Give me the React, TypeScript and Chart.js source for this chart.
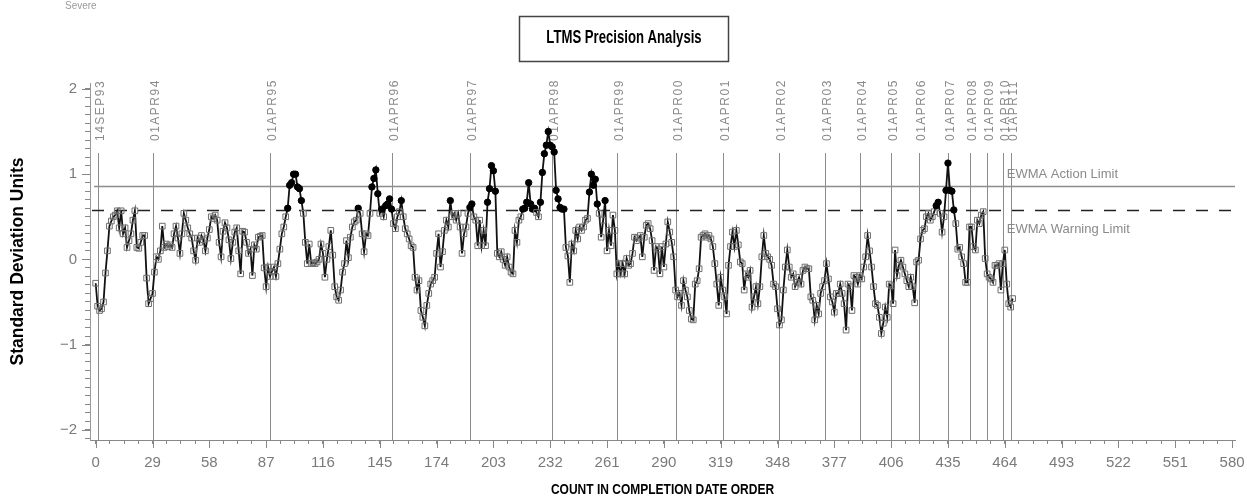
import React, { useEffect, useRef } from 'react';
import { Chart, registerables } from 'chart.js';

Chart.register(...registerables);

const TITLE = 'LTMS Precision Analysis';
const CORNER_NOTE = 'Severe';
const X_TITLE = 'COUNT IN COMPLETION DATE ORDER';
const Y_TITLE = 'Standard Deviation Units';

const ACTION_LIMIT = 0.866;
const WARNING_LIMIT = 0.577;
const ACTION_LABEL = 'EWMA Action Limit';
const WARNING_LABEL = 'EWMA Warning Limit';
const LIMIT_LABEL_COUNT = 465;

const dateLabels = ['14SEP93', '01APR94', '01APR95', '01APR96', '01APR97', '01APR98', '01APR99', '01APR00', '01APR01', '01APR02', '01APR03', '01APR04', '01APR05', '01APR06', '01APR07', '01APR08', '01APR09', '01APR10', '01APR11'];
const dateCounts = [1, 29, 89, 151, 191, 233, 266, 296, 320, 349, 372, 390, 406, 420, 435, 446, 455, 463, 467];

const xMajorStep = 29;
const xMinorStep = 7.25;
const yMajorStep = 1;
const yMinorStep = 0.1;

// EWMA value for each test, in completion date order (count = index)
const ewma = [
  -0.28, -0.55, -0.60, -0.58, -0.50, -0.16, 0.10, 0.39, 0.45, 0.50,
  0.52, 0.57, 0.37, 0.57, 0.30, 0.37, 0.14, 0.22, 0.30, 0.46,
  0.57, 0.14, 0.13, 0.20, 0.28, 0.28, -0.22, -0.52, -0.46, -0.40,
  -0.15, 0.03, 0.00, 0.10, 0.39, 0.14, 0.18, 0.15, 0.17, 0.14,
  0.30, 0.39, 0.25, 0.07, 0.30, 0.54, 0.46, 0.37, 0.30, 0.25,
  0.10, -0.01, 0.25, 0.20, 0.28, 0.23, 0.10, 0.25, 0.35, 0.50,
  0.48, 0.52, 0.46, 0.20, 0.03, 0.33, 0.43, 0.37, 0.23, 0.01,
  0.20, 0.32, 0.37, 0.10, -0.17, 0.33, 0.32, 0.20, 0.07, 0.12,
  -0.19, 0.17, 0.12, 0.26, 0.27, 0.28, -0.10, -0.32, -0.09, -0.20,
  -0.14, -0.09, -0.20, -0.05, 0.12, 0.30, 0.38, 0.50, 0.60, 0.87,
  0.90, 1.00, 1.00, 0.85, 0.83, 0.69, 0.54, 0.20, -0.05, 0.18,
  -0.05, -0.04, -0.05, -0.03, 0.00, 0.18, 0.07, -0.21, 0.00, 0.15,
  0.34, 0.05, -0.32, -0.44, -0.48, -0.36, -0.15, -0.05, 0.22, 0.02,
  0.26, 0.38, 0.44, 0.46, 0.60, 0.54, 0.30, 0.09, 0.30, 0.28,
  0.54, 0.85, 0.95, 1.05, 0.77, 0.54, 0.59, 0.50, 0.63, 0.65,
  0.71, 0.59, 0.42, 0.36, 0.50, 0.56, 0.69, 0.50, 0.36, 0.30,
  0.24, 0.16, 0.14, -0.21, -0.36, -0.25, -0.60, -0.68, -0.78, -0.54,
  -0.40, -0.29, -0.25, -0.21, 0.07, 0.30, -0.09, 0.09, 0.34, 0.46,
  0.38, 0.69, 0.50, 0.54, 0.46, 0.54, 0.38, 0.07, 0.30, 0.38,
  0.54, 0.61, 0.65, 0.50, 0.46, 0.16, 0.46, 0.16, 0.34, 0.16,
  0.67, 0.83, 1.10, 1.04, 0.80, 0.07, 0.03, 0.09, 0.00, -0.07,
  0.03, -0.09, -0.15, -0.17, 0.34, 0.20, 0.46, 0.50, 0.59, 0.60,
  0.67, 0.90, 0.65, 0.59, 0.60, 0.55, 0.50, 0.67, 1.02, 1.24,
  1.34, 1.50, 1.34, 1.32, 1.26, 0.81, 0.71, 0.61, 0.59, 0.59,
  0.14, 0.04, -0.27, 0.18, 0.10, 0.34, 0.24, 0.38, 0.34, 0.38,
  0.46, 0.48, 0.79, 1.00, 0.87, 0.94, 0.65, 0.54, 0.26, 0.46,
  0.69, 0.10, 0.34, 0.16, 0.52, 0.34, -0.17, -0.05, -0.17, -0.05,
  -0.17, 0.01, -0.07, -0.05, 0.07, 0.26, 0.22, 0.25, 0.28, 0.03,
  0.26, 0.40, 0.42, 0.36, 0.22, -0.13, 0.15, 0.12, -0.17, 0.15,
  -0.09, 0.18, 0.44, 0.32, 0.20, 0.03, -0.36, -0.44, -0.40, -0.54,
  -0.25, -0.36, -0.44, -0.60, -0.70, -0.71, -0.29, -0.25, -0.11, 0.26,
  0.28, 0.30, 0.26, 0.28, 0.24, 0.15, -0.05, -0.29, -0.54, -0.21,
  -0.36, -0.44, -0.64, -0.07, 0.15, 0.32, 0.15, 0.34, 0.17, -0.03,
  -0.05, -0.36, -0.17, -0.21, -0.13, -0.56, -0.44, -0.32, -0.52, -0.32,
  0.03, 0.28, 0.07, 0.03, 0.00, -0.07, -0.29, -0.32, -0.58, -0.77,
  -0.71, -0.36, -0.09, 0.11, -0.09, -0.21, -0.17, -0.32, -0.27, -0.21,
  -0.29, -0.13, -0.09, -0.11, -0.11, -0.44, -0.48, -0.71, -0.54, -0.64,
  -0.40, -0.32, -0.25, -0.05, -0.23, -0.44, -0.50, -0.62, -0.40, -0.40,
  -0.29, -0.40, -0.52, -0.83, -0.29, -0.32, -0.60, -0.19, -0.21, -0.29,
  -0.19, -0.23, -0.09, 0.03, 0.28, 0.10, -0.09, -0.32, -0.52, -0.54,
  -0.68, -0.87, -0.75, -0.56, -0.68, -0.29, -0.31, -0.52, 0.11, -0.19,
  -0.07, -0.01, -0.09, -0.17, -0.25, -0.32, -0.21, -0.32, -0.51, -0.03,
  -0.01, 0.24, 0.34, 0.36, 0.50, 0.54, 0.46, 0.50, 0.56, 0.63,
  0.67, 0.54, 0.32, 0.50, 0.81, 1.13, 0.81, 0.80, 0.58, 0.42,
  0.12, 0.14, 0.03, -0.05, -0.27, -0.27, 0.38, 0.38, 0.15, 0.11,
  0.46, 0.42, 0.52, 0.56, 0.01, -0.17, -0.21, -0.23, -0.27, -0.07,
  -0.07, -0.05, -0.36, -0.05, 0.11, -0.29, -0.52, -0.56, -0.46,
];

const SANS = '"Liberation Sans", Arial, sans-serif';

const isMultiple = (v: number, step: number) => Math.abs(v / step - Math.round(v / step)) < 1e-6;
const isAbove = (ctx: any) => {
  const v = ctx.parsed ? ctx.parsed.y : ctx.raw?.y;
  return v > WARNING_LIMIT;
};

// Draws text horizontally condensed (the original uses a narrow bold face)
const drawCondensed = (ctx: CanvasRenderingContext2D, text: string, cx: number, cy: number, font: string, squeeze: number, color: string) => {
  ctx.save();
  ctx.translate(cx, cy);
  ctx.scale(squeeze, 1);
  ctx.font = font;
  ctx.fillStyle = color;
  ctx.textAlign = 'center';
  ctx.textBaseline = 'middle';
  ctx.fillText(text, 0, 0);
  ctx.restore();
};

const overlayPlugin = {
  id: 'ltmsOverlay',
  beforeDatasetsDraw(chart: any) {
    const { ctx, chartArea: ca, scales } = chart;
    const x = scales.x;
    const y = scales.y;
    ctx.save();

    // Date reference lines with rotated labels
    const lineTop = ca.top + 70;
    dateCounts.forEach((c, i) => {
      const px = Math.round(x.getPixelForValue(c)) + 0.5;
      ctx.strokeStyle = '#8c8c8c';
      ctx.lineWidth = 1;
      ctx.setLineDash([]);
      ctx.beginPath();
      ctx.moveTo(px, lineTop);
      ctx.lineTo(px, ca.bottom);
      ctx.stroke();
      ctx.save();
      ctx.translate(px + 2, lineTop - 12);
      ctx.rotate(-Math.PI / 2);
      ctx.fillStyle = '#8a8a8a';
      ctx.font = `12px ${SANS}`;
      (ctx as any).letterSpacing = '1.5px';
      ctx.textAlign = 'left';
      ctx.textBaseline = 'middle';
      ctx.fillText(dateLabels[i], 0, 0);
      ctx.restore();
    });

    // Action limit (solid)
    const ya = Math.round(y.getPixelForValue(ACTION_LIMIT)) + 0.5;
    ctx.strokeStyle = '#8c8c8c';
    ctx.lineWidth = 1.3;
    ctx.beginPath();
    ctx.moveTo(ca.left + 4, ya);
    ctx.lineTo(ca.right, ya);
    ctx.stroke();

    // Warning limit (dashed)
    const yw = Math.round(y.getPixelForValue(WARNING_LIMIT)) + 0.5;
    ctx.strokeStyle = '#222';
    ctx.lineWidth = 1.5;
    ctx.setLineDash([12, 11]);
    ctx.beginPath();
    ctx.moveTo(ca.left + 2, yw);
    ctx.lineTo(ca.right, yw);
    ctx.stroke();
    ctx.setLineDash([]);

    // Limit labels
    const lx = x.getPixelForValue(LIMIT_LABEL_COUNT);
    ctx.fillStyle = '#8a8a8a';
    ctx.font = `13px ${SANS}`;
    ctx.textAlign = 'left';
    ctx.textBaseline = 'middle';
    ctx.fillText(ACTION_LABEL, lx, ya - 12);
    ctx.fillText(WARNING_LABEL, lx, yw + 19);
    ctx.restore();
  },
  afterDraw(chart: any) {
    const { ctx, chartArea: ca, scales } = chart;
    ctx.save();
    // Major tick marks (longer)
    ctx.strokeStyle = '#888';
    ctx.lineWidth = 1;
    scales.y.ticks.forEach((t: any) => {
      if (!isMultiple(t.value, yMajorStep)) return;
      const py = Math.round(scales.y.getPixelForValue(t.value)) + 0.5;
      ctx.beginPath();
      ctx.moveTo(ca.left - 8, py);
      ctx.lineTo(ca.left, py);
      ctx.stroke();
    });
    scales.x.ticks.forEach((t: any) => {
      if (!isMultiple(t.value, xMajorStep)) return;
      const px = Math.round(scales.x.getPixelForValue(t.value)) + 0.5;
      ctx.beginPath();
      ctx.moveTo(px, ca.bottom);
      ctx.lineTo(px, ca.bottom + 8);
      ctx.stroke();
    });

    // Chart title in a box
    const cx = chart.width / 2 + 0.5;
    const cy = 38.5;
    const titleFont = `bold 18px ${SANS}`;
    const squeeze = 0.73;
    ctx.font = titleFont;
    const w = ctx.measureText(TITLE).width * squeeze;
    const hw = w / 2 + 27;
    ctx.strokeStyle = '#444';
    ctx.lineWidth = 1.5;
    ctx.strokeRect(Math.round(cx - hw) + 0.5, Math.round(cy - 22.5) + 0.5, Math.round(hw * 2), 45);
    drawCondensed(ctx, TITLE, cx, cy, titleFont, squeeze, '#000');

    // X axis title
    drawCondensed(ctx, X_TITLE, (ca.left + ca.right) / 2, chart.height - 8, `bold 15px ${SANS}`, 0.8, '#000');

    // Corner note
    ctx.fillStyle = '#9a9a9a';
    ctx.font = `10px ${SANS}`;
    ctx.textAlign = 'left';
    ctx.textBaseline = 'middle';
    ctx.fillText(CORNER_NOTE, 65, 6);
    ctx.restore();
  },
};

export default function App() {
  const canvasRef = useRef<HTMLCanvasElement>(null);

  useEffect(() => {
    if (!canvasRef.current) return;
    const points = ewma.map((v, i) => ({ x: i, y: v }));
    const chart = new Chart(canvasRef.current, {
      type: 'line',
      data: {
        datasets: [
          {
            label: 'EWMA',
            data: points,
            borderColor: '#111',
            borderWidth: 1.8,
            tension: 0,
            fill: false,
            pointStyle: ((c: any) => (isAbove(c) ? 'circle' : 'rect')) as any,
            pointRadius: ((c: any) => (isAbove(c) ? 3.2 : 4)) as any,
            pointBackgroundColor: ((c: any) => (isAbove(c) ? '#000' : 'rgba(255,255,255,0)')) as any,
            pointBorderColor: ((c: any) => (isAbove(c) ? '#000' : '#6e6e6e')) as any,
            pointBorderWidth: 1,
          },
        ],
      },
      options: {
        responsive: false,
        animation: false,
        events: [],
        layout: { padding: { left: 0, right: 12, top: 83, bottom: 0 } },
        plugins: {
          legend: { display: false },
          tooltip: { enabled: false },
          title: { display: false },
        },
        scales: {
          x: {
            type: 'linear',
            min: -2.9,
            max: 581.5,
            afterFit(s: any) {
              s.height = 58;
              s.paddingLeft = 0;
              s.paddingRight = 0;
            },
            border: { display: true, color: '#888', width: 1 },
            grid: { display: true, drawOnChartArea: false, drawTicks: true, tickLength: 4, tickColor: '#888', tickWidth: 1 },
            ticks: {
              stepSize: xMinorStep,
              autoSkip: false,
              maxRotation: 0,
              minRotation: 0,
              includeBounds: false,
              padding: 10,
              color: '#7a7a7a',
              font: { family: SANS, size: 15 },
              callback: (v: any) => (isMultiple(Number(v), xMajorStep) ? String(Math.round(Number(v))) : ''),
            },
            title: { display: false },
          },
          y: {
            min: -2.12,
            max: 2.07,
            afterFit(s: any) {
              s.width = 90;
              s.paddingTop = 0;
              s.paddingBottom = 0;
            },
            border: { display: true, color: '#999', width: 1 },
            grid: { display: true, drawOnChartArea: false, drawTicks: true, tickLength: 5, tickColor: '#888', tickWidth: 1 },
            ticks: {
              stepSize: yMinorStep,
              autoSkip: false,
              includeBounds: false,
              padding: 8,
              color: '#7a7a7a',
              font: { family: SANS, size: 15 },
              callback: (v: any) => {
                const n = Number(v);
                if (!isMultiple(n, yMajorStep)) return '';
                const r = Math.round(n);
                return r < 0 ? '\u2212' + Math.abs(r) : String(r);
              },
            },
            title: {
              display: true,
              text: Y_TITLE,
              color: '#000',
              font: { family: SANS, weight: 'bold', size: 17.5 },
              padding: { top: 7.5, bottom: 0 },
            },
          },
        },
      },
      plugins: [overlayPlugin],
    } as any);
    return () => chart.destroy();
  }, []);

  return (
    <div style={{ position: 'absolute', left: 0, top: 0, width: 1247, height: 498, background: '#fff' }}>
      <canvas ref={canvasRef} width={1247} height={498} />
    </div>
  );
}
